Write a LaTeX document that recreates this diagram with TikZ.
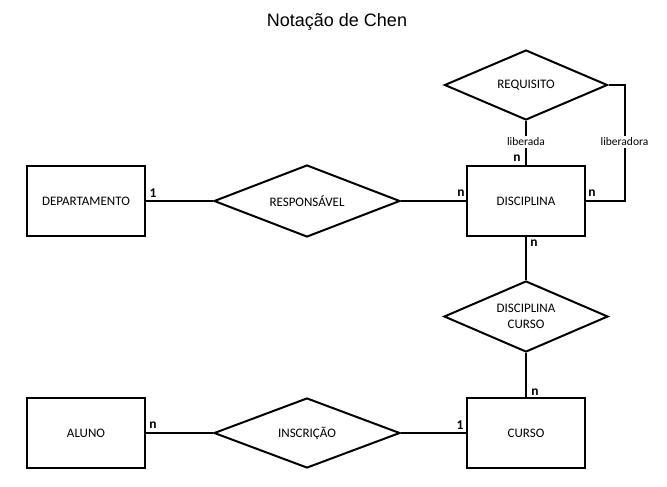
\documentclass[tikz,border=0pt]{standalone}
\usepackage{fontspec}
\setmainfont{Carlito}
\newfontfamily\titlefont{Liberation Sans}
\usetikzlibrary{shapes.geometric}
\tikzset{
  ent/.style={draw, line width=2pt, minimum width=118pt, minimum height=70pt, inner sep=0pt, font=\fontsize{13}{14}\selectfont},
  rel/.style={draw, diamond, line width=2pt, inner sep=0pt, font=\fontsize{13}{15.5}\selectfont, align=center},
  conn/.style={line width=2pt},
  card/.style={font=\fontsize{13.5}{13}\selectfont\bfseries, inner sep=0pt},
  role/.style={fill=white, inner sep=2pt, font=\fontsize{11.5}{12}\selectfont}
}
\begin{document}
\begin{tikzpicture}[x=1pt,y=-1pt]
\useasboundingbox (0,0) rectangle (667,487);
\node[font=\titlefont\fontsize{18}{20}\selectfont] (title) at (337,22) {Notação de Chen};
\node[ent] (dep) at (86,201) {DEPARTAMENTO};
\node[ent] (disc) at (526,201) {DISCIPLINA};
\node[ent] (curso) at (526,433) {CURSO};
\node[ent] (aluno) at (86,433) {ALUNO};
\node[rel, minimum width=186pt, minimum height=72pt, aspect=2.58] (resp) at (307,201) {RESPONSÁVEL};
\node[rel, minimum width=163pt, minimum height=70pt, aspect=2.33] (req) at (526,85) {REQUISITO};
\node[rel, minimum width=164pt, minimum height=71pt, aspect=2.31] (dc) at (526,316.5) {DISCIPLINA\\CURSO};
\node[rel, minimum width=186pt, minimum height=70pt, aspect=2.66] (insc) at (307,433) {INSCRIÇÃO};
\draw[conn] (dep.east) -- (resp.west);
\draw[conn] (resp.east) -- (disc.west);
\draw[conn] (req.south) -- node[role, pos=0.47] (lib) {liberada} (disc.north);
\draw[conn] (req.east) -- ++(16,0) coordinate (c1) |- node[role, pos=0.245] (libd) {liberadora} (disc.east);
\draw[conn] (disc.south) -- (dc.north);
\draw[conn] (dc.south) -- (curso.north);
\draw[conn] (aluno.east) -- (insc.west);
\draw[conn] (insc.east) -- (curso.west);
\node[card] (c1a) at (153,193) {1};
\node[card] (c2a) at (461,193) {n};
\node[card] (c3a) at (517,158) {n};
\node[card] (c4a) at (592,193) {n};
\node[card] (c5a) at (534,243) {n};
\node[card] (c6a) at (535,392) {n};
\node[card] (c7a) at (460,425) {1};
\node[card] (c8a) at (153,425) {n};
\end{tikzpicture}
\end{document}
